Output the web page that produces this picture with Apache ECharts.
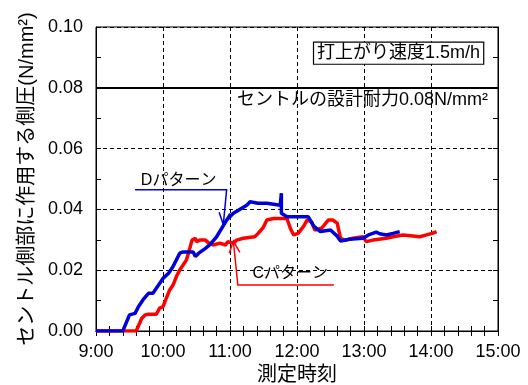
<!DOCTYPE html>
<html>
<head>
<meta charset="utf-8">
<script src="https://cdn.jsdelivr.net/npm/echarts@6/dist/echarts.min.js"></script>
<style>
  html, body { margin: 0; padding: 0; background: #fff; }
  #chart { width: 528px; height: 385px; }
</style>
</head>
<body>
<div id="chart"></div>
<script>
// Lateral pressure on the formwork side, measured over time (H:MM)
const dTimes = ['9:00', '9:24', '9:30', '9:35', '9:38', '9:42', '9:47', '9:51', '9:56', '10:00',
  '10:05', '10:09', '10:12', '10:15', '10:18', '10:27', '10:29', '10:32', '10:38', '10:42',
  '10:48', '10:57', '11:03', '11:15', '11:18', '11:25', '11:33', '11:45', '11:46', '11:46',
  '11:51', '12:00', '12:10', '12:15', '12:21', '12:30', '12:36', '12:39', '12:47', '12:59',
  '13:04', '13:11', '13:14', '13:20', '13:26', '13:32'];
const dValues = [0, 0, 0.0053, 0.0058, 0.0080, 0.0102, 0.0124, 0.0124, 0.0151, 0.0173,
  0.0190, 0.0212, 0.0234, 0.0256, 0.0260, 0.0260, 0.0245, 0.0256, 0.0272, 0.0284,
  0.0310, 0.0365, 0.0387, 0.0414, 0.0425, 0.0420, 0.0420, 0.0414, 0.0453, 0.0387,
  0.0376, 0.0376, 0.0376, 0.0345, 0.0327, 0.0332, 0.0312, 0.0296, 0.0302, 0.0305,
  0.0316, 0.0325, 0.0320, 0.0316, 0.0321, 0.0327];

const cTimes = ['9:00', '9:36', '9:41', '9:44', '9:47', '9:54', '9:57', '10:00', '10:03', '10:06',
  '10:09', '10:12', '10:15', '10:18', '10:21', '10:24', '10:26', '10:29', '10:30', '10:33',
  '10:38', '10:41', '10:45', '10:51', '10:56', '10:58', '11:03', '11:06', '11:12', '11:22',
  '11:25', '11:30', '11:33', '11:39', '11:51', '11:54', '11:57', '12:01', '12:06', '12:09',
  '12:13', '12:16', '12:22', '12:28', '12:32', '12:36', '12:39', '12:43', '12:50', '12:59',
  '13:02', '13:08', '13:20', '13:26', '13:35', '13:50', '13:56', '14:01', '14:05'];
const cValues = [0, 0, 0.0042, 0.0053, 0.0055, 0.0055, 0.0075, 0.0080, 0.0108, 0.0135,
  0.0151, 0.0179, 0.0201, 0.0217, 0.0234, 0.0272, 0.0299, 0.0305, 0.0294, 0.0299,
  0.0299, 0.0289, 0.0283, 0.0289, 0.0283, 0.0294, 0.0289, 0.0299, 0.0305, 0.0310,
  0.0320, 0.0342, 0.0365, 0.0370, 0.0370, 0.0338, 0.0316, 0.0321, 0.0345, 0.0365,
  0.0360, 0.0332, 0.0338, 0.0365, 0.0365, 0.0355, 0.0305, 0.0299, 0.0305, 0.0310,
  0.0294, 0.0299, 0.0305, 0.0310, 0.0316, 0.0310, 0.0316, 0.0321, 0.0327];

const xTickHours = [9, 10, 11, 12, 13, 14, 15];
const yTicks = [0.00, 0.02, 0.04, 0.06, 0.08, 0.10];
const designLimit = 0.08;

const toHours = s => { const p = s.split(':'); return +p[0] + (+p[1]) / 60; };
const pairs = (ts, vs) => ts.map((t, i) => [toHours(t), vs[i]]);

const FONT = "'Liberation Sans', 'Noto Sans CJK JP', sans-serif";
const BLUE = '#0000d8';
const RED = '#ff0000';

const chart = echarts.init(document.getElementById('chart'), null, { renderer: 'canvas' });

const tickCommon = {
  axisTick: { inside: true, length: 5, lineStyle: { color: '#000', width: 1 } },
  minorTick: { show: true, length: 5, lineStyle: { color: '#000', width: 1 } },
  axisLine: { show: true, lineStyle: { color: '#000', width: 1 } }
};

chart.setOption({
  animation: false,
  grid: {
    left: 96, right: 30, top: 27, bottom: 54,
    containLabel: false, outerBoundsMode: 'none',
    show: true, borderColor: '#000', borderWidth: 1
  },
  xAxis: [{
    type: 'value',
    min: xTickHours[0], max: xTickHours[xTickHours.length - 1], interval: 1,
    ...tickCommon,
    minorTick: { ...tickCommon.minorTick, splitNumber: 5 },
    axisLabel: { formatter: v => Math.round(v) + ':00', fontSize: 18, color: '#000', fontFamily: FONT, margin: 12 },
    splitLine: { show: true, lineStyle: { color: '#000', type: [4, 3], width: 1 } },
    name: '測定時刻', nameLocation: 'middle', nameGap: 33,
    nameTextStyle: { fontSize: 20, color: '#000', fontFamily: FONT }
  }, {
    type: 'value', position: 'top',
    min: xTickHours[0], max: xTickHours[xTickHours.length - 1], interval: 1,
    ...tickCommon,
    minorTick: { ...tickCommon.minorTick, splitNumber: 5 },
    axisLabel: { show: false }, splitLine: { show: false }
  }],
  yAxis: [{
    type: 'value',
    min: yTicks[0], max: yTicks[yTicks.length - 1], interval: 0.02,
    ...tickCommon,
    minorTick: { ...tickCommon.minorTick, splitNumber: 2 },
    axisLabel: { formatter: v => v.toFixed(2), fontSize: 18, color: '#000', fontFamily: FONT, margin: 13 },
    splitLine: { show: true, lineStyle: { color: '#000', type: [4, 3], width: 1 } },
    name: 'セントル側部に作用する側圧(N/mm²)', nameLocation: 'middle', nameGap: 58, nameRotate: 90,
    nameTextStyle: { fontSize: 20, color: '#000', fontFamily: FONT }
  }, {
    type: 'value', position: 'right',
    min: yTicks[0], max: yTicks[yTicks.length - 1], interval: 0.02,
    ...tickCommon,
    minorTick: { ...tickCommon.minorTick, splitNumber: 2 },
    axisLabel: { show: false }, splitLine: { show: false }
  }],
  series: [{
    name: 'Cパターン', type: 'line', data: pairs(cTimes, cValues),
    showSymbol: false, symbol: 'none',
    lineStyle: { color: RED, width: 3.5 }, z: 2,
    markLine: {
      silent: true, symbol: 'none', animation: false,
      data: [{ yAxis: designLimit }],
      lineStyle: { color: '#000', width: 2, type: 'solid' },
      label: { show: false }
    }
  }, {
    name: 'Dパターン', type: 'line', data: pairs(dTimes, dValues),
    showSymbol: false, symbol: 'none',
    lineStyle: { color: BLUE, width: 3.5 }, z: 3
  }]
});

// Callouts and notes, anchored in data space
const px = (t, v) => chart.convertToPixel({ xAxisIndex: 0, yAxisIndex: 0 }, [toHours(t), v]);

function arrowHead(tip, from, color) {
  const dx = tip[0] - from[0], dy = tip[1] - from[1];
  const len = Math.hypot(dx, dy), ux = dx / len, uy = dy / len;
  const L = 13, a = 0.42;
  const arm = s => [tip[0] - L * (ux * Math.cos(a) - s * uy * Math.sin(a)),
                    tip[1] - L * (uy * Math.cos(a) + s * ux * Math.sin(a))];
  return {
    type: 'polyline', shape: { points: [arm(1), tip, arm(-1)] },
    style: { stroke: color, lineWidth: 1.5, fill: null }, z: 20
  };
}

const dStart = px('9:35', 0.0465), dCorner = px('10:57', 0.0465), dTip = px('10:54', 0.0350);
const cTip = px('11:03', 0.0296), cCorner = px('11:07', 0.0151), cEnd = px('12:33', 0.0151);
const dLabel = px('10:14', 0.0495), cLabel = px('11:54', 0.0188);
const noteBox = px('13:31', 0.0914);
const limitEnd = px('15:00', designLimit);

const textStyle = (txt, size, extra) => Object.assign({
  text: txt, fontSize: size, fontFamily: FONT, fill: '#000', align: 'center', verticalAlign: 'middle'
}, extra || {});

chart.setOption({
  graphic: [
    { type: 'polyline', shape: { points: [dStart, dCorner, dTip] }, style: { stroke: BLUE, lineWidth: 1.5, fill: null }, z: 20 },
    arrowHead(dTip, dCorner, BLUE),
    { type: 'polyline', shape: { points: [cEnd, cCorner, cTip] }, style: { stroke: RED, lineWidth: 1.5, fill: null }, z: 20 },
    arrowHead(cTip, cCorner, RED),
    { type: 'text', x: dLabel[0], y: dLabel[1], style: textStyle('Dパターン', 16), z: 21 },
    { type: 'text', x: cLabel[0], y: cLabel[1], style: textStyle('Cパターン', 16), z: 21 },
    { type: 'text', x: noteBox[0], y: noteBox[1], z: 21,
      style: textStyle('打上がり速度1.5m/h', 18, {
        backgroundColor: '#fff', borderColor: '#000', borderWidth: 1.2, padding: [2, 3, 1, 3]
      }) },
    { type: 'text', x: limitEnd[0] - 10, y: limitEnd[1] + 12, z: 21,
      style: textStyle('セントルの設計耐力0.08N/mm²', 18, { align: 'right' }) }
  ]
});
</script>
</body>
</html>
